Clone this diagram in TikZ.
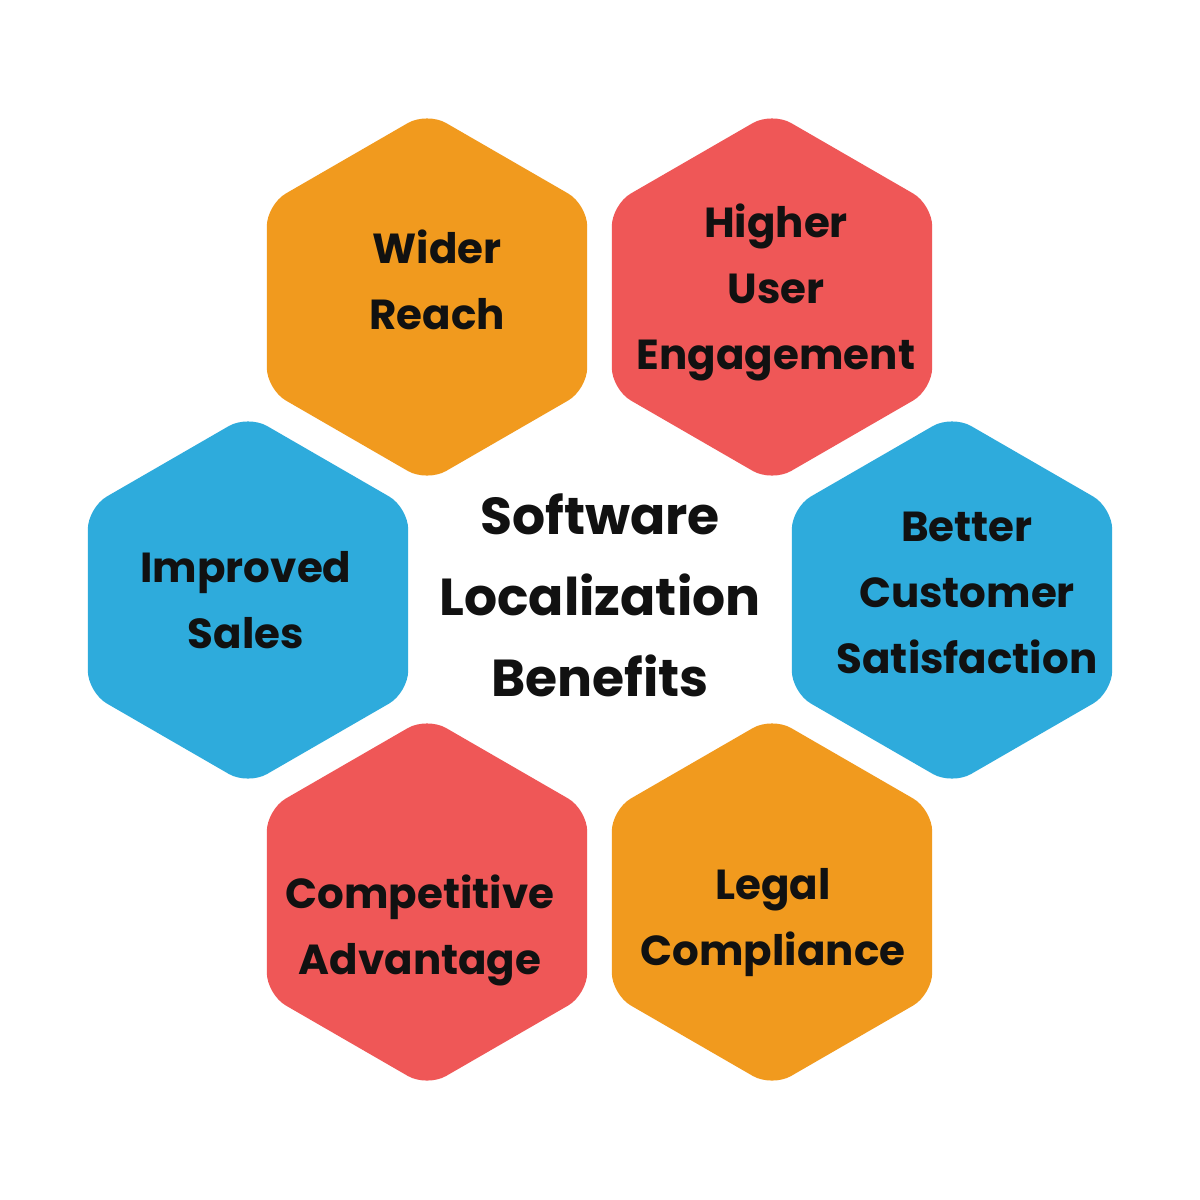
\documentclass[tikz,border=0pt]{standalone}
\usepackage{fontspec}
\setmainfont{Poppins}
\definecolor{horange}{HTML}{F19A1E}
\definecolor{hred}{HTML}{EF5757}
\definecolor{hblue}{HTML}{2EABDC}
\definecolor{txt}{HTML}{111111}
\tikzset{
  hexlabel/.style={align=center,text=txt,font=\bfseries\fontsize{42}{66}\selectfont},
  titlelabel/.style={align=center,text=txt,font=\bfseries\fontsize{52}{81}\selectfont}
}
\newcommand{\hexat}[3]{%
  \fill[#3,rounded corners=22pt] (#1,#2) ++(90:185) -- ++(-30:185) -- ++(-90:185) -- ++(-150:185) -- ++(150:185) -- ++(90:185) -- cycle;}
\begin{document}
\begin{tikzpicture}[x=1pt,y=-1pt]
\useasboundingbox (0,0) rectangle (1200,1200);
\fill[white] (0,0) rectangle (1200,1200);
\begin{scope}[y=1pt]
\end{scope}
\hexat{427}{297}{horange}
\hexat{772}{297}{hred}
\hexat{248}{600}{hblue}
\hexat{952}{600}{hblue}
\hexat{427}{902}{hred}
\hexat{772}{902}{horange}
\node[hexlabel] (wr) at (437,280) {Wider\\Reach};
\node[hexlabel] (hu) at (776,292) {Higher\\User\\Engagement};
\node[hexlabel] (is) at (246,600) {Improved\\Sales};
\node[hexlabel] (bc) at (967,593) {Better\\Customer\\Satisfaction};
\node[hexlabel] (ca) at (420,930) {Competitive\\Advantage};
\node[hexlabel] (lc) at (773,923) {Legal\\Compliance};
\node[titlelabel] (t) at (600,595) {Software\\Localization\\Benefits};
\end{tikzpicture}
\end{document}
